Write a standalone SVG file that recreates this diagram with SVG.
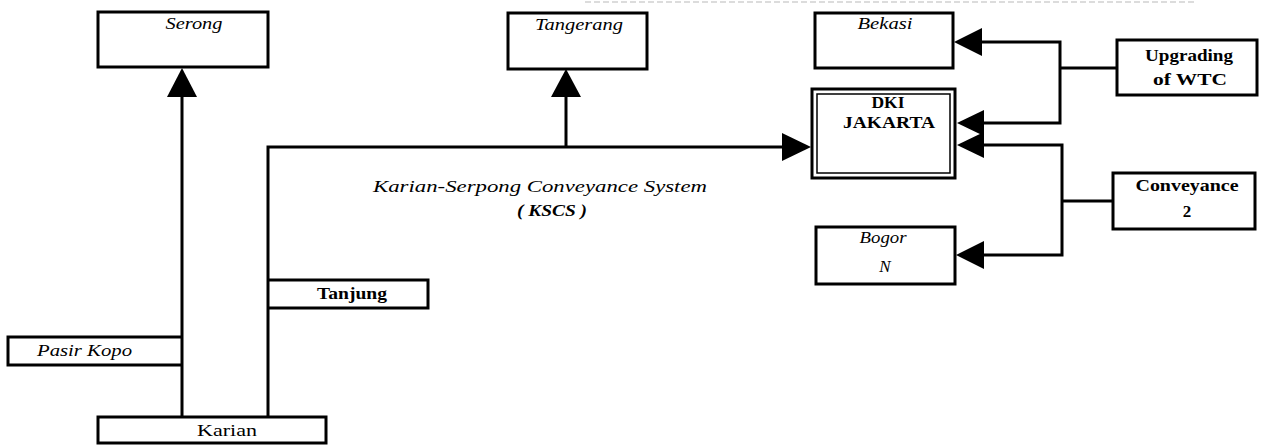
<svg xmlns="http://www.w3.org/2000/svg" width="1265" height="445" viewBox="0 0 1265 445">
<style>
.box{fill:#fff;stroke:#000;stroke-width:3}
.ln{fill:none;stroke:#000;stroke-width:3}
.ah{fill:#000}
.it{font-family:"Liberation Serif",serif;font-style:italic;font-size:17px;fill:#000}
.bd{font-family:"Liberation Serif",serif;font-weight:bold;font-size:17px;fill:#000}
.rg{font-family:"Liberation Serif",serif;font-size:17px;fill:#000}
</style>
<rect width="1265" height="445" fill="#fff"/>
<line x1="585" y1="2" x2="1195" y2="2" stroke="#dcdcdc" stroke-width="2" stroke-dasharray="6 3"/>
<g id="connectors">
  <polyline class="ln" points="182,417 182,95"/>
  <polygon class="ah" points="182,68 167,97 197,97"/>
  <polyline class="ln" points="268,417 268,147 784,147"/>
  <polygon class="ah" points="811,147 782,133 782,161"/>
  <polyline class="ln" points="566,147 566,95"/>
  <polygon class="ah" points="566,69 551,97 581,97"/>
  <polyline class="ln" points="1117,68 1060,68"/>
  <polyline class="ln" points="982,42 1060,42 1060,123 983,123"/>
  <polygon class="ah" points="954,42 982,28 982,56"/>
  <polygon class="ah" points="957,123 984,110 984,136"/>
  <polyline class="ln" points="1113,201 1062,201"/>
  <polyline class="ln" points="983,145 1062,145 1062,255 983,255"/>
  <polygon class="ah" points="957,145 984,132 984,158"/>
  <polygon class="ah" points="956,255 984,241 984,269"/>
</g>
<g id="serong">
  <rect class="box" x="98" y="12" width="170" height="55"/>
  <text class="it" x="194" y="29" text-anchor="middle" textLength="57" lengthAdjust="spacingAndGlyphs">Serong</text>
</g>
<g id="tangerang">
  <rect class="box" x="508" y="13" width="139" height="56"/>
  <text class="it" x="579" y="30" text-anchor="middle" textLength="88" lengthAdjust="spacingAndGlyphs">Tangerang</text>
</g>
<g id="bekasi">
  <rect class="box" x="815" y="13" width="138" height="55"/>
  <text class="it" x="885" y="29" text-anchor="middle" textLength="55" lengthAdjust="spacingAndGlyphs">Bekasi</text>
</g>
<g id="dki-jakarta">
  <rect class="box" x="812" y="89" width="143" height="89"/>
  <rect x="817" y="94" width="133" height="79" fill="none" stroke="#000" stroke-width="1.5"/>
  <text class="bd" x="888" y="108" text-anchor="middle" textLength="33" lengthAdjust="spacingAndGlyphs">DKI</text>
  <text class="bd" x="889" y="128" text-anchor="middle" textLength="92" lengthAdjust="spacingAndGlyphs">JAKARTA</text>
</g>
<g id="upgrading-wtc">
  <rect class="box" x="1117" y="40" width="140" height="55"/>
  <text class="bd" x="1189" y="61" text-anchor="middle" textLength="88" lengthAdjust="spacingAndGlyphs">Upgrading</text>
  <text class="bd" x="1190" y="85" text-anchor="middle" textLength="74" lengthAdjust="spacingAndGlyphs">of WTC</text>
</g>
<g id="conveyance-2">
  <rect class="box" x="1113" y="173" width="142" height="56"/>
  <text class="bd" x="1187" y="191" text-anchor="middle" textLength="103" lengthAdjust="spacingAndGlyphs">Conveyance</text>
  <text class="bd" x="1187" y="217" text-anchor="middle">2</text>
</g>
<g id="bogor-n">
  <rect class="box" x="816" y="227" width="139" height="57"/>
  <text class="it" x="883" y="243" text-anchor="middle" textLength="47" lengthAdjust="spacingAndGlyphs">Bogor</text>
  <text class="it" x="885" y="272" text-anchor="middle">N</text>
</g>
<g id="pasir-kopo">
  <polyline class="ln" points="182,337 8,337 8,365 182,365"/>
  <text class="it" x="37" y="356" textLength="95" lengthAdjust="spacingAndGlyphs">Pasir Kopo</text>
</g>
<g id="tanjung">
  <polyline class="ln" points="268,280 428,280 428,308 268,308"/>
  <text class="bd" x="317" y="299" textLength="70" lengthAdjust="spacingAndGlyphs">Tanjung</text>
</g>
<g id="karian">
  <rect class="box" x="98" y="417" width="228" height="26"/>
  <text class="rg" x="227" y="436" text-anchor="middle" textLength="60" lengthAdjust="spacingAndGlyphs">Karian</text>
</g>
<g id="kscs-label">
  <text class="it" x="540" y="192" text-anchor="middle" textLength="334" lengthAdjust="spacingAndGlyphs">Karian-Serpong Conveyance System</text>
  <text class="it" x="552" y="216" text-anchor="middle" textLength="70" lengthAdjust="spacingAndGlyphs" font-weight="bold">( KSCS )</text>
</g>
</svg>
